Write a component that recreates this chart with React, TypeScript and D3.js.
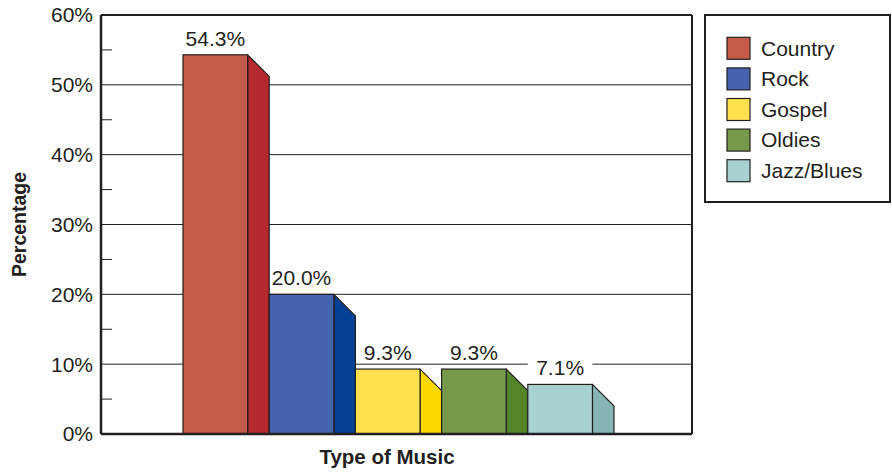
import React from "react";
import * as d3 from "d3";

const categories = ["Country", "Rock", "Gospel", "Oldies", "Jazz/Blues"];
const values = [54.3, 20.0, 9.3, 9.3, 7.1];
const valueLabels = ["54.3%", "20.0%", "9.3%", "9.3%", "7.1%"];
const frontColors = ["#C45A48", "#4563AE", "#FFE14F", "#76994A", "#A8D2D2"];
const sideColors = ["#B5282E", "#054093", "#FFD800", "#568428", "#85B5B5"];
const majorTicks = [0, 10, 20, 30, 40, 50, 60];
const minorTicks = [5, 15, 25, 35, 45, 55];
const yTitle = "Percentage";
const xTitle = "Type of Music";

const W = 892;
const H = 473;
const plot = { left: 101, right: 692, top: 15, bottom: 434 };
const ink = "#231F20";
const font = "'Liberation Sans', Arial, Helvetica, sans-serif";

export default function App() {
  const y = d3.scaleLinear().domain([0, 60]).range([plot.bottom, plot.top]);
  const x = d3.scaleBand<string>().domain(categories).range([183, 614]).padding(0);
  const bw = x.bandwidth();
  const frontW = bw * 0.75;
  const depth = bw - frontW;

  const legendRowY = d3.scaleBand<string>().domain(categories).range([33, 186]);

  return (
    <svg width={W} height={H} style={{ position: "absolute", left: 0, top: 0, background: "#fff" }}>
      <g fontFamily={font} fill={ink}>
        {/* gridlines */}
        {majorTicks.filter((t) => t > 0 && t < 60).map((t) => (
          <line key={"g" + t} x1={plot.left} x2={plot.right} y1={y(t)} y2={y(t)} stroke={ink} strokeWidth={1} />
        ))}
        {minorTicks.map((t) => (
          <line key={"m" + t} x1={plot.left} x2={plot.left + 11} y1={y(t)} y2={y(t)} stroke={ink} strokeWidth={1} />
        ))}
        {/* label backgrounds */}
        {categories.map((c, i) => {
          const top = y(values[i]);
          const base = top - 9;
          return (
            <rect key={"lb" + c} x={x(c)!} y={base - 15} width={frontW} height={17} fill="#fff" />
          );
        })}
        {/* bars */}
        {categories.map((c, i) => {
          const x0 = x(c)!;
          const top = y(values[i]);
          const x1 = x0 + frontW;
          const sidePts = [
            [x1, top],
            [x1 + depth, top + depth],
            [x1 + depth, y(0)],
            [x1, y(0)],
          ];
          return (
            <g key={c}>
              <polygon points={sidePts.map((p) => p.join(",")).join(" ")} fill={sideColors[i]} stroke={ink} strokeWidth={1.2} strokeLinejoin="round" />
              <rect x={x0} y={top} width={frontW} height={y(0) - top} fill={frontColors[i]} stroke={ink} strokeWidth={1.2} />
            </g>
          );
        })}
        {/* value labels */}
        {categories.map((c, i) => (
          <text key={"v" + c} x={x(c)! + frontW / 2} y={y(values[i]) - 9} textAnchor="middle" fontSize={21}>
            {valueLabels[i]}
          </text>
        ))}
        {/* plot frame */}
        <line x1={plot.left} x2={plot.right} y1={plot.top} y2={plot.top} stroke={ink} strokeWidth={2} />
        <line x1={plot.right} x2={plot.right} y1={plot.top} y2={plot.bottom} stroke={ink} strokeWidth={2} />
        <line x1={plot.left} x2={plot.left} y1={plot.top} y2={plot.bottom} stroke={ink} strokeWidth={2.5} />
        <line x1={plot.left} x2={plot.right} y1={plot.bottom} y2={plot.bottom} stroke={ink} strokeWidth={2.5} />
        {/* y tick labels */}
        {majorTicks.map((t) => (
          <text key={"t" + t} x={93} y={y(t)} dy="0.35em" textAnchor="end" fontSize={21}>
            {t + "%"}
          </text>
        ))}
        {/* axis titles */}
        <text transform={`translate(26,${(plot.top + plot.bottom) / 2}) rotate(-90)`} textAnchor="middle" fontSize={19.5} fontWeight="bold">
          {yTitle}
        </text>
        <text x={387} y={464} textAnchor="middle" fontSize={20.5} fontWeight="bold">
          {xTitle}
        </text>
        {/* legend */}
        <rect x={705} y={15} width={185} height={187} fill="#fff" stroke={ink} strokeWidth={2} />
        {categories.map((c, i) => {
          const cy = legendRowY(c)! + legendRowY.bandwidth() / 2;
          return (
            <g key={"lg" + c}>
              <rect x={727} y={cy - 11} width={23} height={22} fill={frontColors[i]} stroke={ink} strokeWidth={1.2} />
              <text x={761} y={cy} dy="0.35em" fontSize={21}>
                {c}
              </text>
            </g>
          );
        })}
      </g>
    </svg>
  );
}
